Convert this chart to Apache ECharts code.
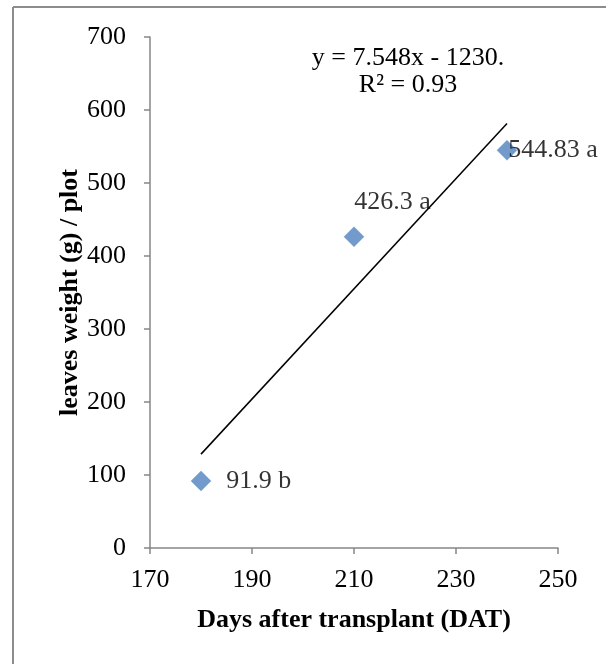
<!DOCTYPE html>
<html>
<head>
<meta charset="utf-8">
<script src="https://cdn.jsdelivr.net/npm/echarts@6/dist/echarts.min.js"></script>
<style>html,body{margin:0;padding:0;background:#fff;}#c{width:606px;height:664px;}</style>
</head>
<body>
<div id="c"></div>
<script>
const days = [180, 210, 240];
const weights = [91.9, 426.3, 544.83];
const pointLabels = ['91.9 b', '426.3 a', '544.83 a'];
const trendX = [180, 240];
const trendY = [128.6, 581.5];
const equationText = ['y = 7.548x - 1230.', 'R² = 0.93'];
const xTicks = [170, 190, 210, 230, 250];
const yTicks = [0, 100, 200, 300, 400, 500, 600, 700];

const FONT = '"Liberation Serif", "Times New Roman", serif';
const labelOffsets = [[15, 0], [-10, -35], [-9, 0]];

const chart = echarts.init(document.getElementById('c'), null, {renderer: 'canvas'});
chart.setOption({
  animation: false,
  backgroundColor: '#fff',
  grid: {left: 150, right: 48, top: 37, bottom: 116},
  xAxis: {
    type: 'value', min: xTicks[0], max: xTicks[xTicks.length - 1], interval: 20,
    name: 'Days after transplant (DAT)', nameLocation: 'middle', nameGap: 59,
    nameMoveOverlap: false,
    nameTextStyle: {fontFamily: FONT, fontSize: 26, fontWeight: 'bold', color: '#000'},
    axisLine: {lineStyle: {color: '#868686', width: 1.5}},
    axisTick: {show: true, length: 6, lineStyle: {color: '#868686', width: 1.5}},
    axisLabel: {fontFamily: FONT, fontSize: 26, color: '#000', margin: 19},
    splitLine: {show: false}
  },
  yAxis: {
    type: 'value', min: yTicks[0], max: yTicks[yTicks.length - 1], interval: 100,
    name: 'leaves weight (g) / plot', nameLocation: 'middle', nameGap: 67,
    nameMoveOverlap: false,
    nameTextStyle: {fontFamily: FONT, fontSize: 26, fontWeight: 'bold', color: '#000'},
    axisLine: {show: true, lineStyle: {color: '#868686', width: 1.5}},
    axisTick: {show: true, length: 6, lineStyle: {color: '#868686', width: 1.5}},
    axisLabel: {fontFamily: FONT, fontSize: 26, color: '#000', margin: 24},
    splitLine: {show: false}
  },
  series: [
    {
      type: 'line',
      data: trendX.map((x, i) => [x, trendY[i]]),
      symbol: 'none',
      lineStyle: {color: '#000', width: 1.5},
      z: 2
    },
    {
      type: 'scatter',
      symbol: 'diamond',
      symbolSize: 20,
      itemStyle: {color: '#4F81BD', borderColor: '#6d96c9', borderWidth: 0.5},
      data: days.map((d, i) => ({
        value: [d, weights[i]],
        label: {
          show: true, position: 'right', distance: 0, offset: labelOffsets[i],
          formatter: pointLabels[i],
          fontFamily: FONT, fontSize: 26, color: '#000'
        }
      })),
      z: 3
    }
  ],
  graphic: [
    {type: 'line', shape: {x1: 13, y1: 7, x2: 606, y2: 7}, style: {stroke: '#8c8c8c', lineWidth: 2}},
    {type: 'line', shape: {x1: 13, y1: 7, x2: 13, y2: 664}, style: {stroke: '#8c8c8c', lineWidth: 2}},
    {type: 'text', x: 408, y: 58, style: {text: equationText[0], textAlign: 'center', textVerticalAlign: 'middle', font: '26px ' + FONT, fill: '#000'}},
    {type: 'text', x: 408, y: 85, style: {text: equationText[1], textAlign: 'center', textVerticalAlign: 'middle', font: '26px ' + FONT, fill: '#000'}}
  ]
});
</script>
</body>
</html>
